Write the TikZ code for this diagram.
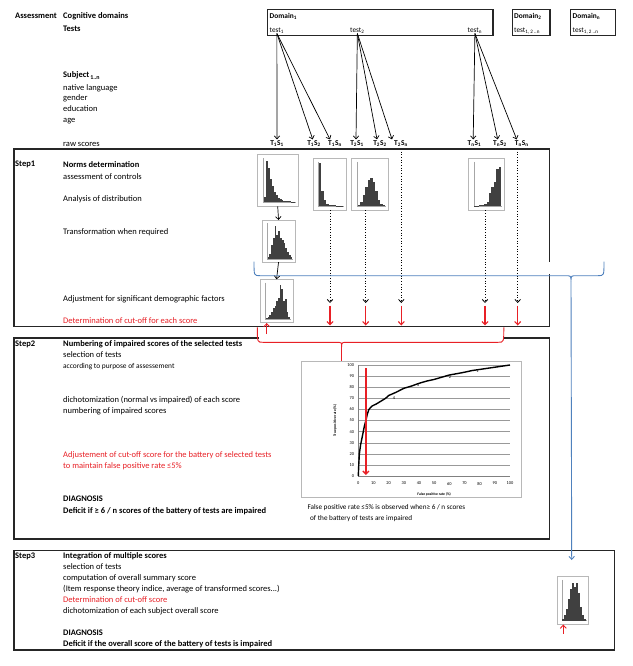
\documentclass[tikz,border=0pt]{standalone}
\usepackage{fontspec}
\setmainfont{Carlito}
\usetikzlibrary{arrows.meta,calc}
\definecolor{myred}{RGB}{232,32,38}
\definecolor{myblue}{RGB}{79,129,189}
\tikzset{
 txt/.style={anchor=base west, inner sep=0pt, font=\fontsize{8.5}{10}\selectfont},
 btxt/.style={txt, font=\fontsize{8.5}{10}\selectfont\bfseries},
 rtxt/.style={txt, text=myred},
 stxt/.style={txt, font=\fontsize{7.4}{9}\selectfont},
 dtxt/.style={anchor=base west, inner sep=0pt, font=\fontsize{7.4}{9}\selectfont\bfseries},
 ttxt/.style={anchor=base west, inner sep=0pt, font=\fontsize{7.3}{9}\selectfont},
 tlab/.style={inner sep=0.8pt, font=\fontsize{7.4}{8}\selectfont\bfseries},
 bigbox/.style={draw=black!85, line width=1.2pt, anchor=north west, inner sep=0pt},
 arr/.style={-{Straight Barb[length=3pt,width=5.5pt]}, line width=0.7pt},
 darr/.style={arr, dotted, line width=0.8pt},
 rarr/.style={-{Straight Barb[length=3.2pt,width=6pt]}, line width=1.1pt, draw=myred},
 histframe/.style={draw=black!28, line width=0.4pt, inner sep=0pt, anchor=north west},
 histbar/.style={fill=black!75},
 chtick/.style={inner sep=0.3pt, font=\fontsize{4.4}{5}\selectfont},
 chlab/.style={inner sep=0.3pt, font=\fontsize{3.7}{4}\selectfont\bfseries},
 notetxt/.style={anchor=base west, inner sep=0pt, font=\fontsize{7.2}{8}\selectfont},
}
\newcommand{\histo}[7]{%
  \node[histframe, minimum width=#4pt, minimum height=#5pt] (#1) at (#2,#3) {};
  \draw[black!35, line width=0.3pt] ({#2+0.16*#4},{#3+0.08*#5}) -- ({#2+0.16*#4},{#3+0.93*#5}) -- ({#2+0.95*#4},{#3+0.93*#5});
  \foreach \hh [count=\i] in {#7} {
    \fill[histbar] ({#2+0.18*#4+(\i-1)*0.74*#4/#6},{#3+0.93*#5}) rectangle ++({0.74*#4/#6},{-\hh*0.83*#5});
  }%
}
\begin{document}
\begin{tikzpicture}[x=1pt,y=-1pt]
\useasboundingbox (0,0) rectangle (632,666);
\fill[white] (0,0) rectangle (632,666);

% ---------- header ----------
\node[btxt] (assess) at (15,18.6) {Assessment};
\node[btxt] (cogdom) at (63,18.6) {Cognitive domains};
\node[btxt] (tests) at (63,31.6) {Tests};
\node[btxt] (subj) at (63,77.9) {Subject\textsubscript{\,1..n}};
\node[txt] (natlang) at (63,90.2) {native language};
\node[txt] (gender) at (63,100.6) {gender};
\node[txt] (educ) at (63,111.6) {education};
\node[txt] (age) at (63,122.6) {age};
\node[txt] (raw) at (63,146.2) {raw scores};

% domain boxes
\node[bigbox, minimum width=225.6pt, minimum height=25.7pt] (dom1box) at (266.7,9.3) {};
\node[bigbox, minimum width=37.6pt, minimum height=25.7pt] (dom2box) at (511.7,9.3) {};
\node[bigbox, minimum width=45pt, minimum height=25.7pt] (domnbox) at (570,9.3) {};
\node[dtxt] (dom1) at (269.5,18.4) {Domain\textsubscript{1}};
\node[ttxt] (test1) at (269.5,32.3) {test\textsubscript{1}};
\node[ttxt] (test2) at (350,32.3) {test\textsubscript{2}};
\node[ttxt] (testn) at (467.5,32.3) {test\textsubscript{n}};
\node[dtxt] (dom2) at (514,18.4) {Domain\textsubscript{2}};
\node[ttxt] (test2x) at (514,32.3) {test\textsubscript{1, 2 ..n}};
\node[dtxt] (domn) at (572.5,18.4) {Domain\textsubscript{n}};
\node[ttxt] (testnx) at (572.5,32.3) {test\textsubscript{1, 2 ..n}};

% score labels
\node[tlab] (t11) at (277,143.3) {T\textsubscript{1}S\textsubscript{1}};
\node[tlab] (t12) at (314,143.3) {T\textsubscript{1}S\textsubscript{2}};
\node[tlab] (t1n) at (335,143.3) {T\textsubscript{1}S\textsubscript{n}};
\node[tlab] (t21) at (357,143.3) {T\textsubscript{2}S\textsubscript{1}};
\node[tlab] (t22) at (380,143.3) {T\textsubscript{2}S\textsubscript{2}};
\node[tlab] (t2n) at (401,143.3) {T\textsubscript{2}S\textsubscript{n}};
\node[tlab] (tn1) at (474.5,143.3) {T\textsubscript{n}S\textsubscript{1}};
\node[tlab] (tn2) at (500,143.3) {T\textsubscript{n}S\textsubscript{2}};
\node[tlab] (tnn) at (521.7,143.3) {T\textsubscript{n}S\textsubscript{n}};

\draw[arr] (test1.south) -- (t11.north);
\draw[arr] (test1.south) -- ([xshift=-1.3pt]t12.north);
\draw[arr] (test1.south) -- ([xshift=-5pt]t1n.north);
\draw[arr] (test2.south) -- ([xshift=-1pt]t21.north);
\draw[arr] (test2.south) -- ([xshift=-3pt]t22.north);
\draw[arr] (test2.south) -- ([xshift=-9pt]t2n.north);
\draw[arr] (testn.south) -- ([xshift=-1.3pt]tn1.north);
\draw[arr] (testn.south) -- ([xshift=-2.3pt]tn2.north);
\draw[arr] (testn.south) -- ([xshift=-5pt]tnn.north);

% ---------- step boxes ----------
\node[bigbox, minimum width=535.7pt, minimum height=177.7pt] (s1box) at (13.3,148.3) {};
\node[bigbox, minimum width=535.7pt, minimum height=201pt] (s2box) at (13.3,337.3) {};
\node[bigbox, minimum width=600.7pt, minimum height=99.3pt] (s3box) at (13.3,550) {};

% ---------- step 1 text ----------
\node[btxt] (step1) at (15,166.3) {Step1};
\node[btxt] (norms) at (63,167.7) {Norms determination};
\node[txt] (ctrl) at (63,179.6) {assessment of controls};
\node[txt] (distr) at (63,201.9) {Analysis of distribution};
\node[txt] (transf) at (63,234.6) {Transformation when required};
\node[txt] (adjust) at (63,301.9) {Adjustment for significant demographic factors};
\node[rtxt] (cutoff1) at (63,323.5) {Determination of cut-off for each score};

% histograms
\histo{h1}{256.7}{154}{41.6}{52}{16}{0.12,0.95,0.8,0.55,0.38,0.25,0.16,0.1,0.07,0.05,0.04,0.03,0.02,0.02,0.01,0.01}
\histo{h2}{312.7}{157.7}{33.3}{52.3}{10}{1.0,0.35,0.14,0.05,0.03,0.02,0.02,0.01,0.01,0.01}
\histo{h3}{351}{157.7}{37.3}{52.3}{11}{0.03,0.1,0.25,0.45,0.6,0.65,0.55,0.35,0.15,0.05,0.02}
\histo{h4}{468}{157.7}{36}{52.3}{11}{0.01,0.01,0.02,0.03,0.05,0.1,0.3,0.45,0.55,0.85,0.9}
\histo{h5}{261.7}{220}{33.3}{41.7}{14}{0.05,0.15,0.4,0.6,0.95,0.7,0.8,0.6,0.55,0.45,0.3,0.2,0.1,0.05}
\histo{h6}{260}{279.3}{32.7}{42.4}{14}{0.02,0.05,0.1,0.2,0.3,0.35,0.5,0.6,0.95,0.85,0.5,0.55,0.2,0.05}

\draw[arr] (h1.south) -- (h5.north);
\draw[arr] (h5.south) -- (h6.north);

% dotted & red arrows
\coordinate (d1) at (330,303);   \coordinate (r1) at (330,325.5);
\coordinate (d2) at (365.7,303); \coordinate (r2) at (365.7,325.5);
\coordinate (d3) at (401.3,303); \coordinate (r3) at (401.3,325.5);
\coordinate (d4) at (485,303);   \coordinate (r4) at (485,325.5);
\coordinate (d5) at (517.7,303); \coordinate (r5) at (517.7,325.5);
\coordinate (d3top) at (401.3,151.5);
\coordinate (d5top) at (517.7,151.5);
\draw[darr] (h2.south -| d1) -- (d1);
\draw[darr] (h3.south -| d2) -- (d2);
\draw[darr] (d3top) -- (d3);
\draw[darr] (h4.south -| d4) -- (d4);
\draw[darr] (d5top) -- (d5);
\foreach \k in {1,...,5} { \draw[rarr] ([yshift=-2.5pt]d\k) -- (r\k); }
\coordinate (r0) at (266.7,323);
\draw[rarr, line width=0.8pt] ([yshift=-11pt]r0) -- (r0);

% blue brace
\fill[white] (546.5,261.5) rectangle (551.5,274);
\coordinate (btip) at (571,281);
\coordinate (bend) at (571.7,560);
\draw[myblue, line width=0.9pt] (254,261.7) .. controls (254,275.7) .. (260,275.7) -- (565,275.7) .. controls (571,275.7) .. (btip)
  .. controls (571,275.7) .. (577,275.7) -- (598,275.7) .. controls (604,275.7) .. (604,261.7);
\draw[myblue, line width=0.9pt, -{Straight Barb[length=3pt,width=5.5pt]}] (btip) -- (bend);

% red brace
\fill[white] (258.5,335) rectangle (503,340);
\coordinate (rtip) at (341.7,347);
\draw[myred, line width=0.9pt] (257.3,327.3) .. controls (257.3,342.3) .. (263,342.3) -- (336,342.3) .. controls (341.7,342.3) .. (rtip)
  .. controls (341.7,342.3) .. (347.5,342.3) -- (498,342.3) .. controls (503.8,342.3) .. (503.8,327.3);

% ---------- step 2 text ----------
\node[btxt] (step2) at (15,346.9) {Step2};
\node[btxt] (numb) at (63,346.9) {Numbering of impaired scores of the selected tests};
\node[txt] (sel2) at (63,357.9) {selection of tests};
\node[stxt] (purp) at (63,368.6) {according to purpose of assessement};
\node[txt] (dicho2) at (63,402.2) {dichotomization (normal vs impaired) of each score};
\node[txt] (numimp) at (63,413.6) {numbering of impaired scores};
\node[rtxt] (adjb1) at (63,457.9) {Adjustement of cut-off score for the battery of selected tests};
\node[rtxt] (adjb2) at (63,468.9) {to maintain false positive rate ≤5\%};
\node[btxt] (diag2) at (63,501.2) {DIAGNOSIS};
\node[btxt] (def2) at (63,513.6) {Deficit if ≥ 6 / n scores of the battery of tests are impaired};

% chart
\node[histframe, minimum width=220pt, minimum height=136pt] (chart) at (301,360.7) {};
\draw[myred, line width=0.9pt] (rtip) -- (rtip |- chart.north);
\begin{scope}[shift={(358.3pt,-476pt)}, x=1.517pt, y=1.11pt]
  \foreach \g in {10,20,...,100} { \draw[black!40, line width=0.35pt] (0,\g) -- (100,\g); }
  \draw[black!50, line width=0.4pt] (0,100) -- (0,0) -- (100,0);
  \foreach \g in {0,10,...,100} {
    \node[chtick, anchor=east] (yl\g) at (-2.5,\g) {\g};
    \node[chtick, anchor=north] (xl\g) at (\g,-5) {\g};
  }
  \draw[line width=1.4pt, line join=round] plot coordinates {(0,0) (0.3,10) (0.7,20) (1.5,28) (3,38) (4,45) (5,50) (6,56) (7,60) (9,63) (12,65) (15,67.5) (18,70) (20,72.5) (25,75.5) (30,79) (35,81) (40,83.5) (45,85.5) (50,87) (55,89) (60,91) (65,92.2) (70,93.5) (75,95) (80,96) (85,97) (90,98) (95,99) (100,100)};
  \node[chtick] (c4) at (23.5,70.5) {4};
  \node[chtick] (c3) at (39.5,81.5) {3};
  \node[chtick] (c2) at (60.5,89) {2};
  \node[chtick] (c1) at (78.5,94.3) {1};
  \draw[rarr, line width=1.3pt] (5,97) -- (5,0.8);
  \node[chlab] (xlab) at (50,-16.2) {False positive rate (\%)};
  \node[chlab, rotate=90] (ylab) at (-15.4,50) {True positive rate (\%)};
\end{scope}
\node[notetxt] (note1) at (307.3,509.5) {False positive rate ≤5\% is observed when≥ 6 / n scores};
\node[notetxt] (note2) at (310,520.5) {of the battery of tests are impaired};

% ---------- step 3 ----------
\node[btxt] (step3) at (15,558.9) {Step3};
\node[btxt] (integ) at (63,558.9) {Integration of multiple scores};
\node[txt] (sel3) at (63,569.6) {selection of tests};
\node[txt] (comp) at (63,580.6) {computation of overall summary score};
\node[txt] (irt) at (63,591.6) {(Item response theory indice, average of transformed scores...)};
\node[rtxt] (cutoff3) at (63,602.2) {Determination of cut-off score};
\node[txt] (dicho3) at (63,613.6) {dichotomization of each subject overall score};
\node[btxt] (diag3) at (63,635.6) {DIAGNOSIS};
\node[btxt] (def3) at (63,646.6) {Deficit if the overall score of the battery of tests is impaired};

\histo{h7}{556.7}{576}{31.6}{48}{12}{0.05,0.15,0.3,0.55,0.8,0.95,0.85,0.95,0.7,0.35,0.15,0.05}
\coordinate (r7) at (563.3,624.5);
\draw[rarr, line width=0.9pt] ([yshift=-9pt]r7) -- (r7);
\end{tikzpicture}
\end{document}
